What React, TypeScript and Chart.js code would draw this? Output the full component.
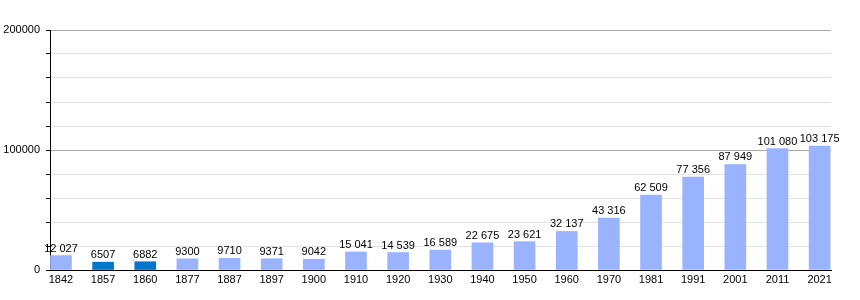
import React, { useEffect, useRef } from "react";
import { Chart, registerables } from "chart.js";

Chart.register(...registerables);

const years = ["1842", "1857", "1860", "1877", "1887", "1897", "1900", "1910", "1920", "1930", "1940", "1950", "1960", "1970", "1981", "1991", "2001", "2011", "2021"];
const population = [12027, 6507, 6882, 9300, 9710, 9371, 9042, 15041, 14539, 16589, 22675, 23621, 32137, 43316, 62509, 77356, 87949, 101080, 103175];
const highlightedYears = ["1857", "1860"];
const yTickLabels = [0, 100000, 200000];

const FONT = '"Liberation Sans", Arial, sans-serif';

function fmt(v: number): string {
  if (v < 10000) return String(v);
  return String(v).replace(/\B(?=(\d{3})+(?!\d))/g, " ");
}

const valueLabels = {
  id: "valueLabels",
  afterDatasetsDraw(chart: any) {
    const ctx = chart.ctx;
    const meta = chart.getDatasetMeta(0);
    ctx.save();
    ctx.font = "11px " + FONT;
    ctx.fillStyle = "#000";
    ctx.textAlign = "center";
    ctx.textBaseline = "alphabetic";
    meta.data.forEach((el: any, i: number) => {
      ctx.fillText(fmt(population[i]), el.x, el.y - 4);
    });
    ctx.restore();
  },
};

export default function App() {
  const ref = useRef<HTMLCanvasElement>(null);
  useEffect(() => {
    if (!ref.current) return;
    const chart = new Chart(ref.current, {
      type: "bar",
      data: {
        datasets: [
          {
            data: population.map((v, i) => ({ x: i, y: v })),
            backgroundColor: years.map((y) => (highlightedYears.includes(y) ? "#0077cc" : "#99b3ff")),
            barThickness: 21,
            borderWidth: 0,
          },
        ],
      },
      options: {
        animation: false,
        responsive: false,
        devicePixelRatio: 1,
        layout: { padding: { top: 30, right: 29, bottom: 0, left: 0 } },
        plugins: { legend: { display: false }, tooltip: { enabled: false } },
        scales: {
          x: {
            type: "linear",
            offset: false,
            min: -0.26,
            max: 18.27,
            afterBuildTicks: (scale: any) => {
              scale.ticks = years.map((_, i) => ({ value: i }));
            },
            afterFit: (scale: any) => {
              scale.height = 30;
            },
            grid: { display: false, drawTicks: false },
            border: { display: true, color: "#000", width: 1 },
            ticks: {
              autoSkip: false,
              maxRotation: 0,
              padding: 3,
              color: "#000",
              font: { size: 11, family: FONT },
              callback: (v: any) => years[v as number] ?? "",
            },
          },
          y: {
            min: 0,
            max: 200000,
            afterFit: (scale: any) => {
              scale.width = 50;
            },
            grid: {
              color: (c: any) => (c.tick && c.tick.value % 100000 === 0 ? "#a8a8a8" : "#e2e2e2"),
              tickColor: "#000",
              tickLength: 4,
            },
            border: { display: true, color: "#000", width: 1 },
            ticks: {
              stepSize: 20000,
              padding: 6,
              color: "#000",
              font: { size: 11, family: FONT },
              callback: (v: any) => (yTickLabels.includes(v as number) ? String(v) : ""),
            },
          },
        },
      },
      plugins: [valueLabels],
    });
    return () => chart.destroy();
  }, []);
  return (
    <div style={{ position: "fixed", left: 0, top: 0, width: 860, height: 300, background: "#fff" }}>
      <canvas ref={ref} width={860} height={300} />
    </div>
  );
}
